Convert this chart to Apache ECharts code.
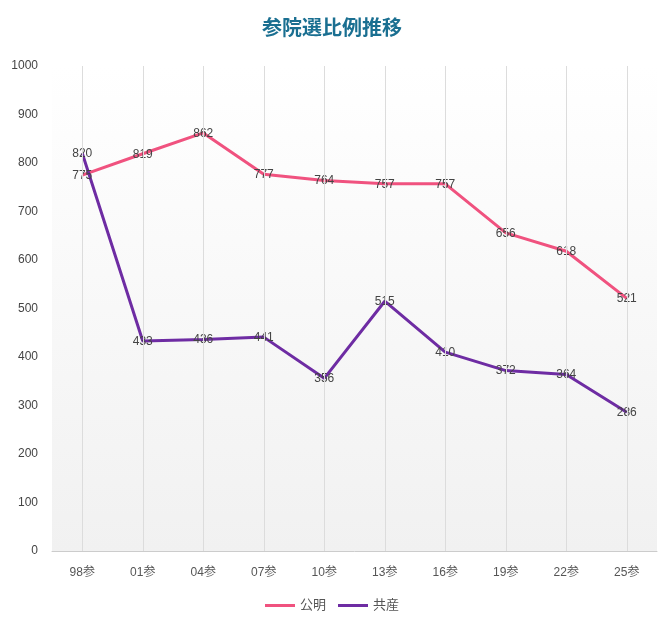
<!DOCTYPE html><html><head><meta charset="utf-8"><script src="https://cdn.jsdelivr.net/npm/echarts@6/dist/echarts.min.js"></script></head><body style="margin:0"><div id="c" style="width:664px;height:629px"></div><script>
const categories=['98参','01参','04参','07参','10参','13参','16参','19参','22参','25参'];
const komei=[775,819,862,777,764,757,757,656,618,521];
const kyosan=[820,433,436,441,356,515,410,372,364,286];
const yTicks={min:0,max:1000,interval:100};
const ch=echarts.init(document.getElementById('c'));
const font='"Liberation Sans","Noto Sans CJK JP",sans-serif';
const lbl={show:true,position:'top',distance:-7,color:'#444',fontSize:12,fontFamily:font};
ch.setOption({
 title:{text:'参院選比例推移',left:'center',top:12,textStyle:{color:'#1a6f91',fontSize:20,fontWeight:'bold',fontFamily:'"Noto Sans CJK JP",sans-serif'}},
 legend:{bottom:12,itemWidth:30,itemHeight:3,icon:'rect',textStyle:{color:'#555',fontSize:13,fontFamily:font},itemGap:12},
 grid:{left:52,right:7,top:66,bottom:78,show:true,borderWidth:0,backgroundColor:new echarts.graphic.LinearGradient(0,0,0,1,[{offset:0,color:'#ffffff'},{offset:1,color:'#f1f1f1'}])},
 xAxis:{type:'category',data:categories,boundaryGap:true,axisLine:{lineStyle:{color:'#ccc'}},axisTick:{show:false},axisLabel:{color:'#555',fontSize:12,margin:16,fontFamily:font},splitLine:{show:false}},
 yAxis:{type:'value',...yTicks,axisLabel:{color:'#444',fontSize:12,margin:14,fontFamily:font,formatter:v=>String(v)},splitLine:{show:false},axisLine:{show:false}},
 series:[
  {name:'公明',type:'line',data:komei,symbol:'circle',symbolSize:1,showSymbol:true,lineStyle:{width:3,color:'#f0527f'},itemStyle:{color:'#f0527f'},label:lbl,labelLayout:{hideOverlap:false},z:3,
   markLine:{silent:true,symbol:'none',label:{show:false},lineStyle:{color:'#dcdcdc',type:'solid',width:1},data:categories.map(c=>({xAxis:c}))}},
  {name:'共産',type:'line',data:kyosan,symbol:'circle',symbolSize:1,showSymbol:true,lineStyle:{width:3,color:'#6e2ca3'},itemStyle:{color:'#6e2ca3'},label:lbl,labelLayout:{hideOverlap:false},z:3}
 ]
});
</script></body></html>
